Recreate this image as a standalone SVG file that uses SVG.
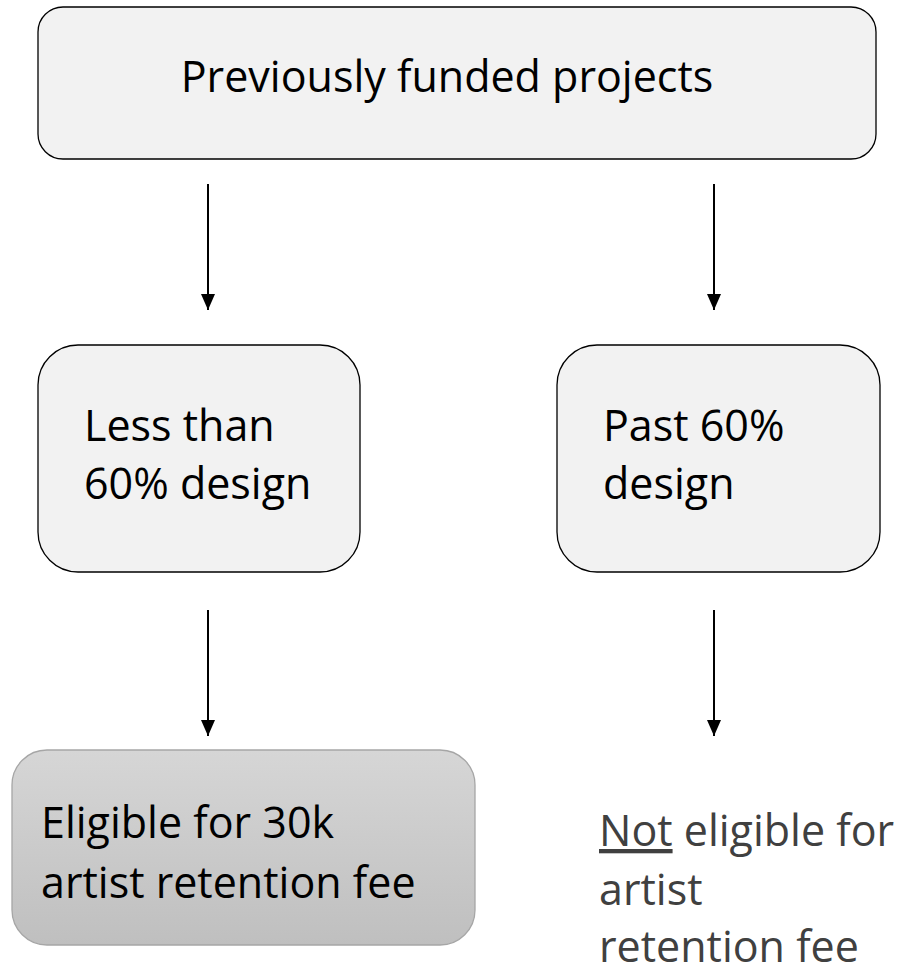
<svg xmlns="http://www.w3.org/2000/svg" width="907" height="967" viewBox="0 0 907 967">
<style>
.box{fill:#f2f2f2;stroke:#000;stroke-width:1.3}
.t{font-family:"Open Sans","Noto Sans","Liberation Sans",sans-serif;font-size:43px;fill:#000}
.g{fill:#404040}
.c{stroke:#000;stroke-width:2;fill:none;marker-end:url(#ah)}
</style>
<defs>
<marker id="ah" markerWidth="16" markerHeight="14" refX="16" refY="7" orient="auto" markerUnits="userSpaceOnUse" viewBox="0 0 16 14">
<path d="M0,0 L16,7 L0,14 Z" fill="#000"/>
</marker>
<linearGradient id="gr" x1="0" y1="0" x2="0" y2="1">
<stop offset="0" stop-color="#d6d6d6"/>
<stop offset="1" stop-color="#bfbfbf"/>
</linearGradient>
</defs>
<g id="connectors">
<line class="c" x1="208" y1="184" x2="208" y2="310"/>
<line class="c" x1="714" y1="184" x2="714" y2="310"/>
<line class="c" x1="208" y1="610" x2="208" y2="736"/>
<line class="c" x1="714" y1="610" x2="714" y2="736"/>
</g>
<g id="n-top">
<rect class="box" x="38" y="7" width="838" height="152" rx="25"/>
<text class="t" x="447" y="92" text-anchor="middle">Previously funded projects</text>
</g>
<g id="n-less">
<rect class="box" x="38" y="345" width="322" height="227" rx="40"/>
<text class="t" x="84" y="441">Less than</text>
<text class="t" x="84" y="499">60% design</text>
</g>
<g id="n-past">
<rect class="box" x="557" y="345" width="323" height="227" rx="40"/>
<text class="t" x="603" y="441">Past 60%</text>
<text class="t" x="603" y="499">design</text>
</g>
<g id="n-eligible">
<rect x="12" y="750" width="463" height="195" rx="35" fill="url(#gr)" stroke="#a6a6a6" stroke-width="1.3"/>
<text class="t" x="41" y="838">Eligible for 30k</text>
<text class="t" x="41" y="898">artist retention fee</text>
</g>
<g id="n-not">
<text class="t g" x="599" y="846"><tspan text-decoration="underline">Not</tspan> eligible for</text>
<text class="t g" x="599" y="905">artist</text>
<text class="t g" x="599" y="962">retention fee</text>
</g>
</svg>
